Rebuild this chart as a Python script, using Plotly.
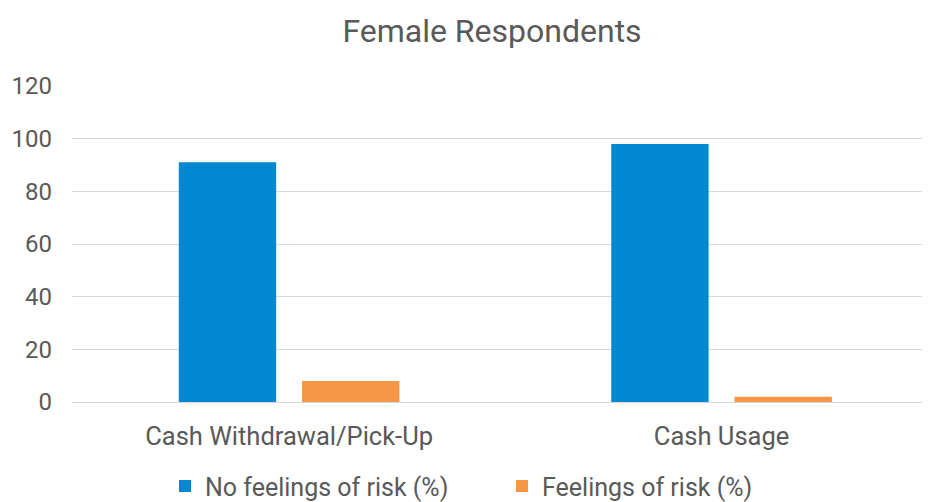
import plotly.graph_objects as go

categories = ["Cash Withdrawal/Pick-Up", "Cash Usage"]
no_risk = [91, 98]
risk = [8, 2]
series_names = ["No feelings of risk (%)", "Feelings of risk (%)"]
y_ticks = [0, 20, 40, 60, 80, 100, 120]

FONT = "Roboto"
GRAY = "#595959"

# the page body adds an 8px margin; size the figure so it fits the window
W, H = 922, 494

fig = go.Figure()
fig.add_trace(go.Bar(x=[0, 1], y=no_risk, name=series_names[0],
                     marker=dict(color="#0288D1", line=dict(width=0))))
fig.add_trace(go.Bar(x=[0, 1], y=risk, name=series_names[1],
                     marker=dict(color="#F79646", line=dict(width=0))))

fig.update_layout(
    width=W, height=H,
    margin=dict(l=64, r=0, t=78, b=100, autoexpand=False),
    paper_bgcolor="white", plot_bgcolor="white",
    barmode="group", bargap=0.43, bargroupgap=0.21,
    font=dict(family=FONT, color=GRAY, size=24),
    title=dict(text="Female Respondents", x=(492 - 8) / W, xanchor="center",
               y=1 - 23 / H, yanchor="middle", yref="container",
               font=dict(family=FONT, size=32, color=GRAY)),
    showlegend=True,
    legend=dict(orientation="h", x=(157 - 64) / 858, xanchor="left", y=-0.267, yanchor="middle",
                font=dict(family=FONT, size=25, color=GRAY),
                entrywidth=292, entrywidthmode="pixels", itemwidth=30,
                traceorder="normal"),
)
fig.update_xaxes(
    range=[-0.502, 1.482], automargin=False,
    tickmode="array", tickvals=[0, 1], ticktext=categories,
    showgrid=False, zeroline=False, showline=False, ticks="",
    ticklabelstandoff=16,
    tickfont=dict(family=FONT, size=25.5, color=GRAY),
)
fig.update_yaxes(
    range=[0, 120], tickmode="array", tickvals=y_ticks, automargin=False,
    showgrid=True, gridcolor="#D9D9D9", gridwidth=1.3,
    zeroline=True, zerolinecolor="#D9D9D9", zerolinewidth=1.3,
    showline=False, ticks="", ticklabelstandoff=19,
    tickfont=dict(family=FONT, size=24, color=GRAY),
)

fig.write_html("out.html")
